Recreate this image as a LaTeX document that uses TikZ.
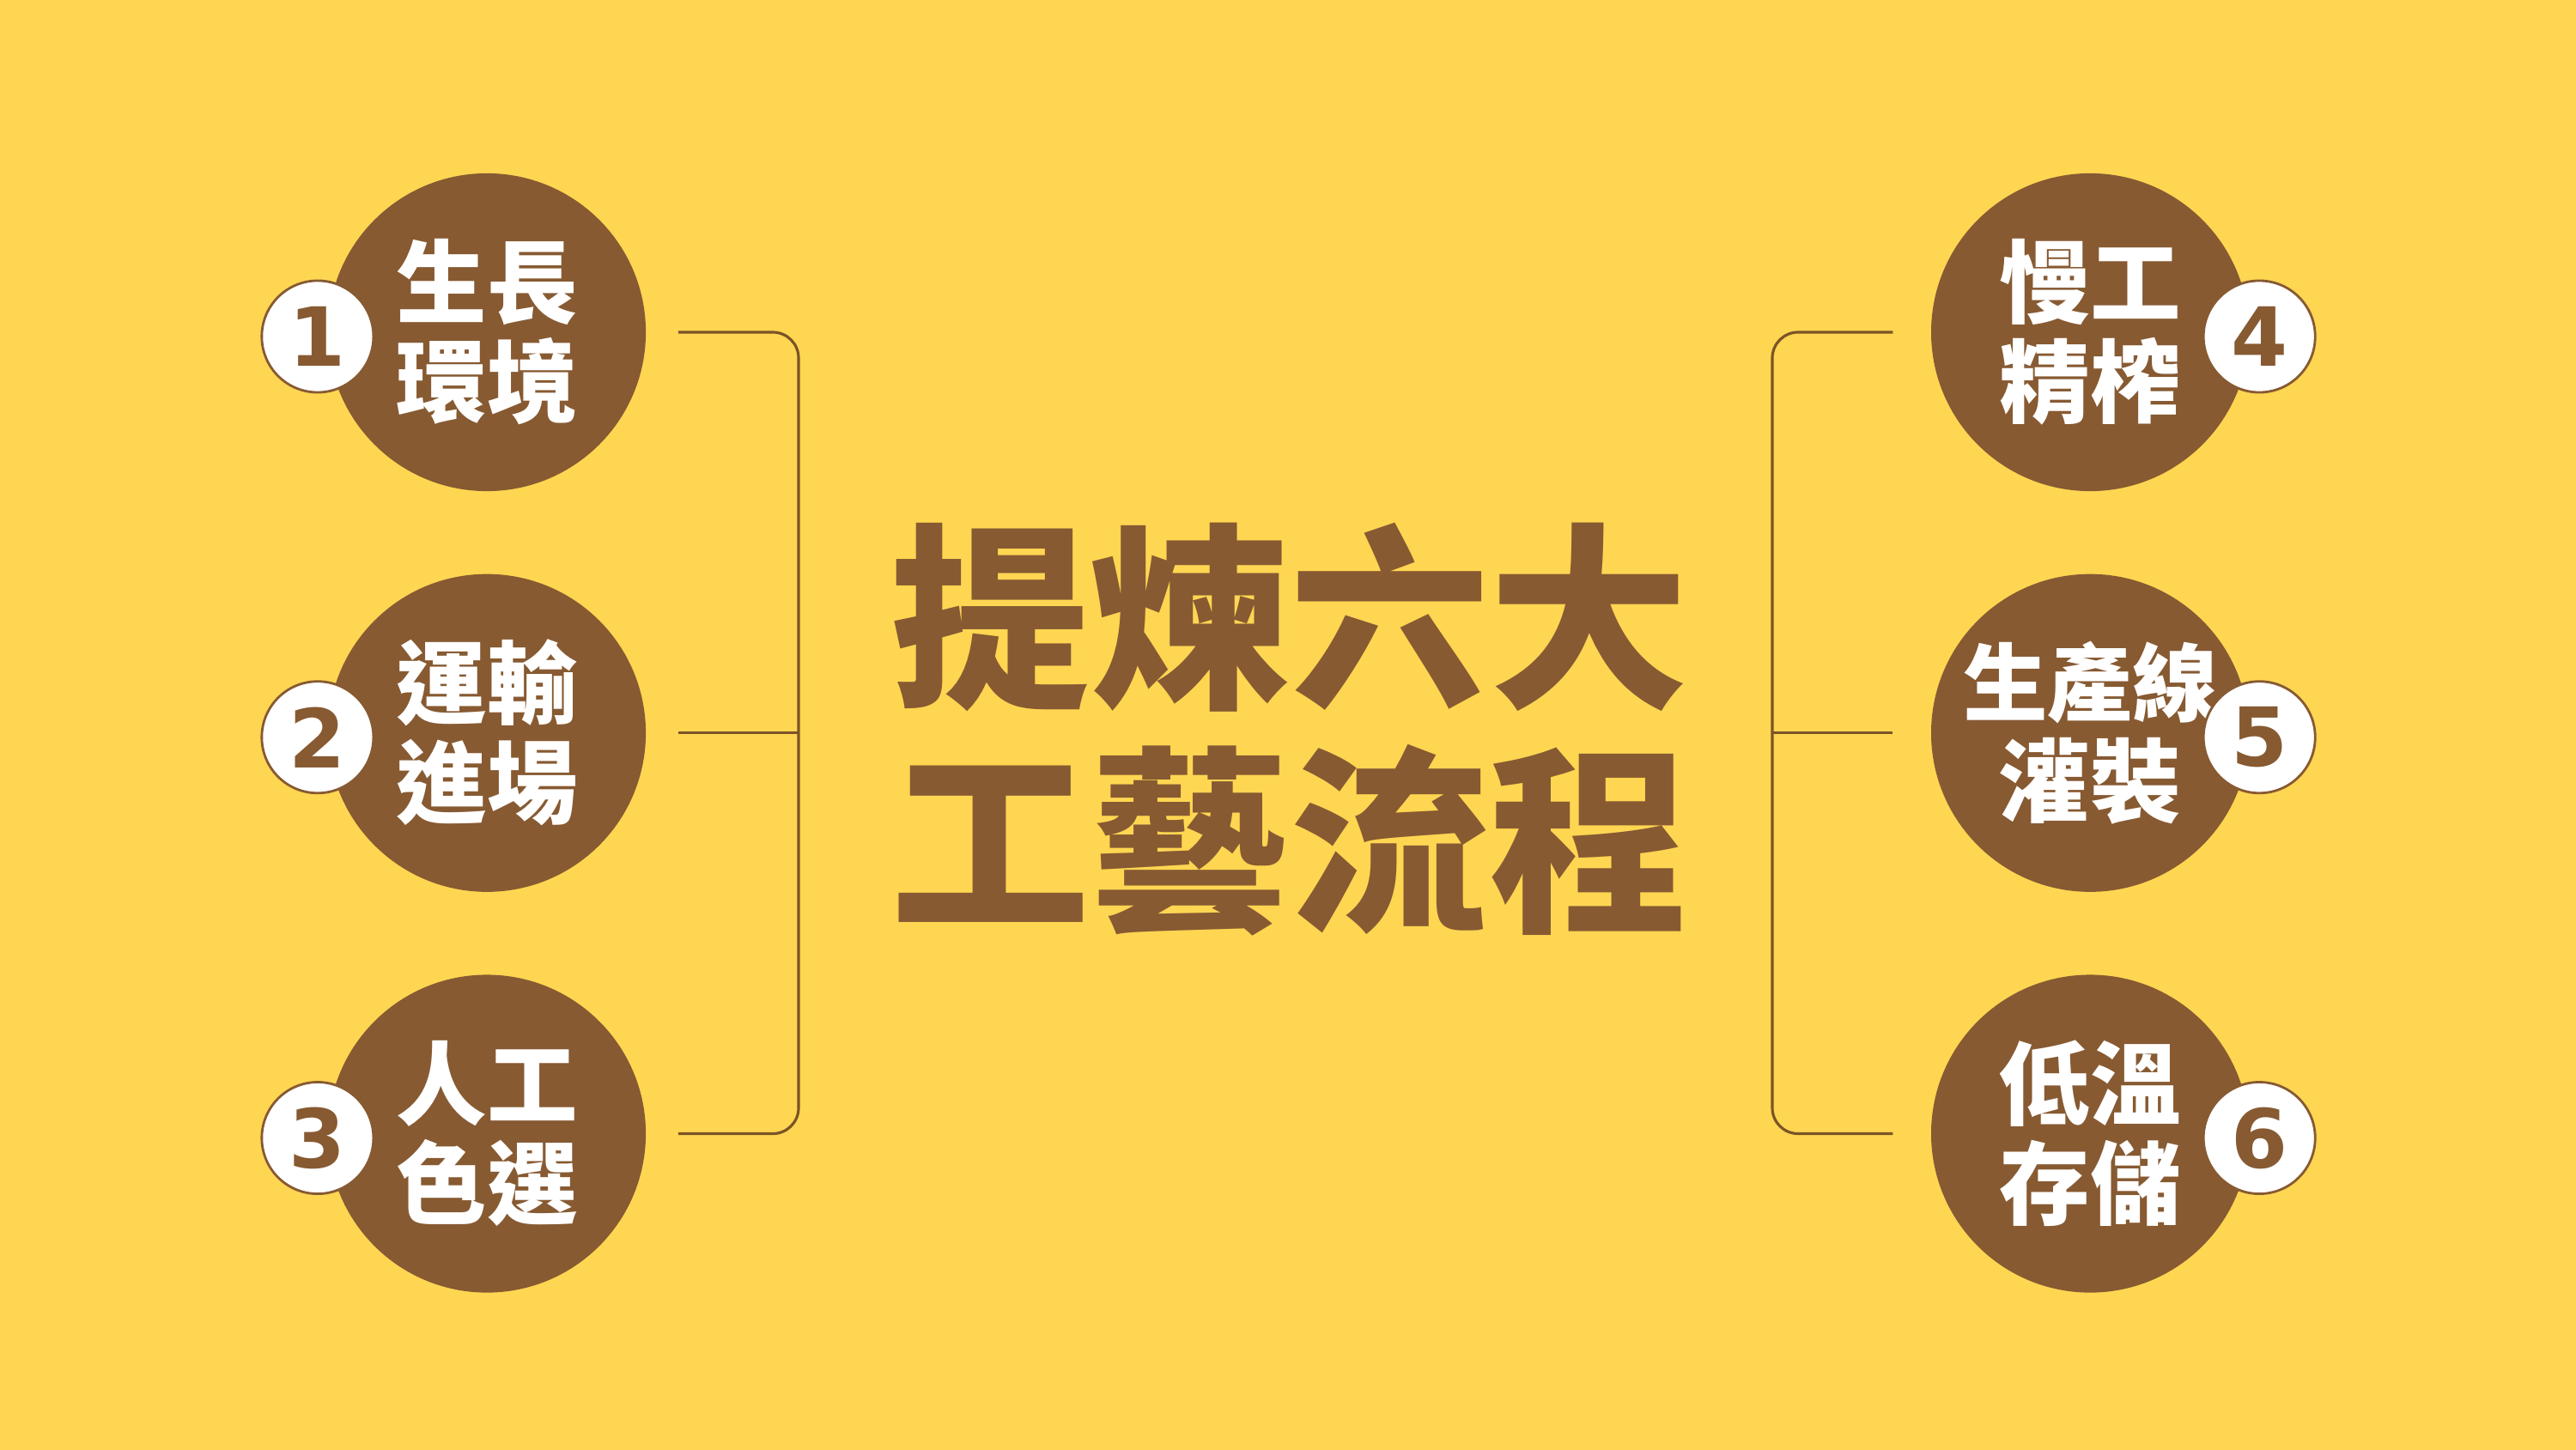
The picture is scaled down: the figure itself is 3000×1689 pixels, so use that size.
\documentclass[tikz,border=0pt]{standalone}
\usepackage{fontspec}
\newfontfamily\cjk{Noto Sans CJK TC}
\newfontfamily\numfont{DejaVu Sans}
\usetikzlibrary{positioning}
\definecolor{bgyellow}{HTML}{FFD652}
\definecolor{bean}{HTML}{875A32}
\definecolor{linebrown}{HTML}{7B5426}

\begin{document}
\begin{tikzpicture}[x=0.01cm,y=-0.01cm,node distance=4.665cm,on grid,
  stage/.style ={circle,fill=bean,minimum size=3.7cm,inner sep=0pt,text=white,align=center,
                 font=\cjk\bfseries\fontsize{30}{33}\selectfont},
  num/.style   ={circle,fill=white,draw=bean,line width=0.8pt,minimum size=1.3cm,inner sep=0pt,
                 text=bean,font=\numfont\bfseries\fontsize{27}{27}\selectfont},
  headline/.style={align=center,text=bean,font=\cjk\bfseries\fontsize{66}{74}\selectfont}]
  \fill[bgyellow] (0,0) rectangle (3000,1689);
  \node[stage]          (c1) at (567,387)          {生長\\環境};
  \node[stage]          (c2) [below =of c1]        {運輸\\進場};
  \node[stage]          (c3) [below =of c2]        {人工\\色選};
  \node[stage]          (c4) [right =18.66cm of c1] {慢工\\精榨};
  \node[stage]          (c5) [below =of c4]        {\fontsize{28}{33}\selectfont 生產線\\灌裝};
  \node[stage]          (c6) [below =of c5]        {低溫\\存儲};
  \node[num]            (n1) [left =1.97cm of c1, yshift=-0.05cm] {1};
  \node[num]            (n2) [left =1.97cm of c2, yshift=-0.05cm] {2};
  \node[num]            (n3) [left =1.97cm of c3, yshift=-0.05cm] {3};
  \node[num]            (n4) [right=1.97cm of c4, yshift=-0.05cm] {4};
  \node[num]            (n5) [right=1.97cm of c5, yshift=-0.05cm] {5};
  \node[num]            (n6) [right=1.97cm of c6, yshift=-0.05cm] {6};
  \node[headline]       (head) at (1502,850)       {提煉六大\\工藝流程};
  \coordinate (lspine) at (930,853);
  \coordinate (rspine) at (2064,853);
\tikzset{bracket/.style={draw=linebrown,line width=0.9pt,rounded corners=0.3cm}}
\draw[bracket,shorten <=0.37cm,shorten >=0.37cm] (c1.east) -| (lspine) |- (c3.east);
\draw[bracket,shorten <=0.37cm] (c2.east) -- (c2.east -| lspine);
\draw[bracket,shorten <=0.44cm,shorten >=0.44cm] (c4.west) -| (rspine) |- (c6.west);
\draw[bracket,shorten <=0.44cm] (c5.west) -- (c5.west -| rspine);
\end{tikzpicture}
\end{document}
